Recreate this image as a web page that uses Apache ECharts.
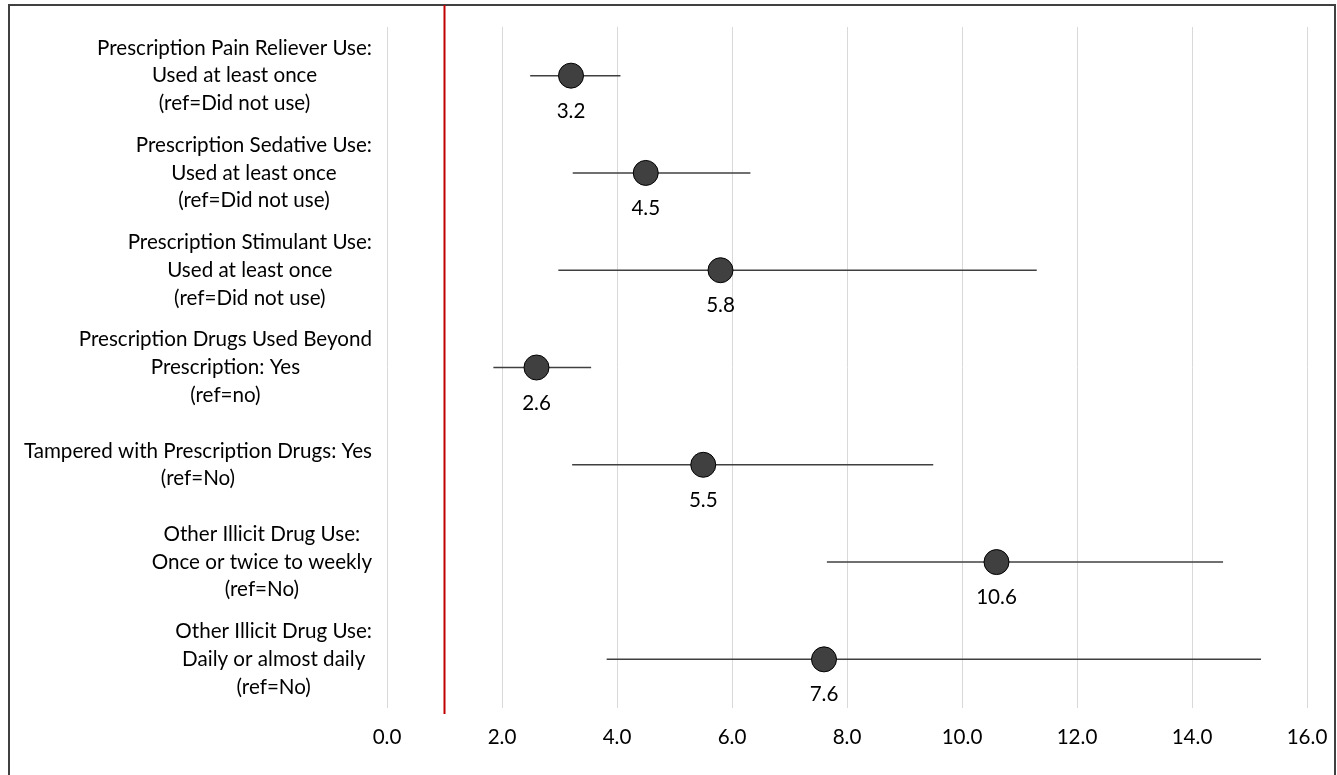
<!DOCTYPE html>
<html>
<head>
<meta charset="utf-8">
<title>Adjusted odds ratios – prescription and illicit drug use</title>
<script src="https://cdn.jsdelivr.net/npm/echarts@6/dist/echarts.min.js"></script>
<style>
  html, body { margin: 0; padding: 0; background: #ffffff; }
  #chart { width: 1337px; height: 775px; }
</style>
</head>
<body>
<div id="chart"></div>
<script>
// Predictors (one row each, lines of the wrapped label)
const categories = [
  'Prescription Pain Reliever Use:\nUsed at least once\n(ref=Did not use)',
  'Prescription Sedative Use:\nUsed at least once\n(ref=Did not use)',
  'Prescription Stimulant Use:\nUsed at least once\n(ref=Did not use)',
  'Prescription Drugs Used Beyond\nPrescription: Yes\n(ref=no)',
  'Tampered with Prescription Drugs: Yes\n(ref=No)',
  'Other Illicit Drug Use:\nOnce or twice to weekly\n(ref=No)',
  'Other Illicit Drug Use:\nDaily or almost daily\n(ref=No)'
];

// Odds ratio estimates
const oddsRatios = [3.2, 4.5, 5.8, 2.6, 5.5, 10.6, 7.6];

// 95% confidence interval bounds
const ciLower = [2.49, 3.23, 2.98, 1.85, 3.22, 7.65, 3.82];
const ciUpper = [4.06, 6.32, 11.30, 3.55, 9.50, 14.54, 15.20];

// Value axis ticks
const xMin = 0;
const xMax = 16;
const xStep = 2;

// Null-effect reference (OR = 1)
const REF_VALUE = 1;

const FONT = 'Lato, "Open Sans", sans-serif';
const FONT_SIZE = 20.6;
const chart = echarts.init(document.getElementById('chart'), null, { renderer: 'canvas' });

const option = {
  backgroundColor: '#ffffff',
  animation: false,
  grid: { left: 387, right: 30, top: 27, bottom: 67, containLabel: false },
  xAxis: {
    type: 'value',
    min: xMin,
    max: xMax,
    interval: xStep,
    axisLine: { show: false },
    axisTick: { show: false },
    splitLine: { show: true, lineStyle: { color: '#d9d9d9', width: 1 } },
    axisLabel: {
      margin: 19,
      color: '#000000',
      fontFamily: FONT,
      fontSize: FONT_SIZE,
      formatter: v => v.toFixed(1)
    }
  },
  yAxis: {
    type: 'category',
    data: categories,
    inverse: true,
    axisLine: { show: false },
    axisTick: { show: false },
    splitLine: { show: false },
    axisLabel: {
      margin: 15,
      formatter: v => v.split('\n').map(line => '{c|' + line + '}').join('\n'),
      rich: {
        c: {
          align: 'center',
          color: '#000000',
          fontFamily: FONT,
          fontSize: FONT_SIZE,
          lineHeight: 27.7
        }
      }
    }
  },
  series: [
    {
      // confidence interval whiskers
      type: 'custom',
      z: 2,
      data: categories.map((c, i) => [i, ciLower[i], ciUpper[i]]),
      encode: { x: [1, 2], y: 0 },
      renderItem: (params, api) => {
        const idx = api.value(0);
        const lo = api.coord([api.value(1), idx]);
        const hi = api.coord([api.value(2), idx]);
        return {
          type: 'line',
          shape: { x1: lo[0], y1: lo[1], x2: hi[0], y2: hi[1] },
          style: { stroke: '#404040', lineWidth: 1.5 }
        };
      }
    },
    {
      // point estimates
      type: 'scatter',
      z: 3,
      symbol: 'circle',
      symbolSize: 25,
      itemStyle: { color: '#404040', borderColor: '#000000', borderWidth: 1, opacity: 1 },
      data: oddsRatios.map((v, i) => [v, i]),
      label: {
        show: true,
        position: 'bottom',
        distance: 12,
        color: '#000000',
        fontFamily: FONT,
        fontSize: FONT_SIZE,
        formatter: p => p.value[0].toFixed(1)
      }
    }
  ]
};

chart.setOption(option);

// Reference line at OR = 1 and the chart frame
const refX = chart.convertToPixel({ xAxisIndex: 0 }, REF_VALUE);
chart.setOption({
  graphic: [
    {
      type: 'rect',
      z: 0,
      shape: { x: 9, y: 5, width: 1326, height: 780 },
      style: { fill: 'none', stroke: '#404040', lineWidth: 2 },
      silent: true
    },
    {
      type: 'line',
      z: 10,
      shape: { x1: refX, y1: 5, x2: refX, y2: 714 },
      style: { stroke: '#c00000', lineWidth: 2 },
      silent: true
    }
  ]
});
</script>
</body>
</html>
